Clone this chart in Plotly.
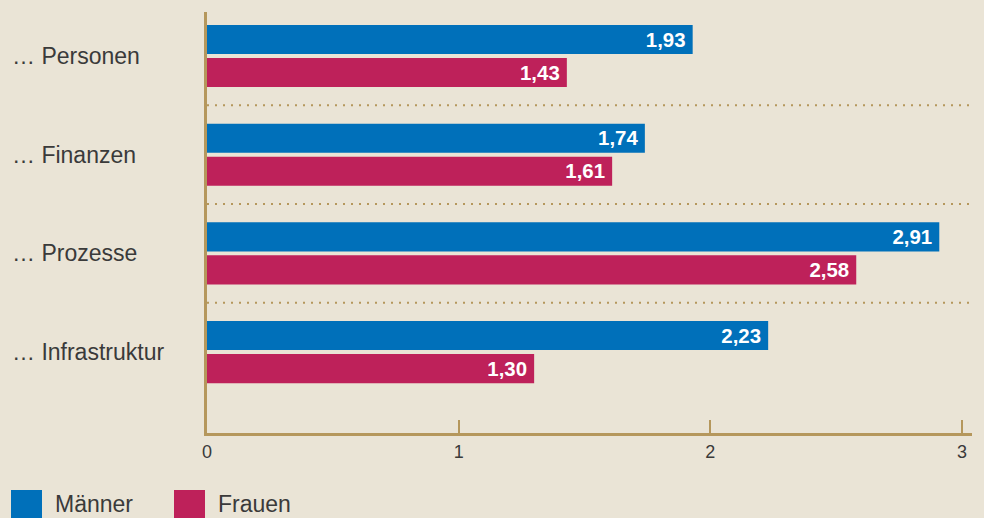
import plotly.graph_objects as go

categories = ["… Personen", "… Finanzen", "… Prozesse", "… Infrastruktur"]
maenner = [1.93, 1.74, 2.91, 2.23]
frauen = [1.43, 1.61, 2.58, 1.30]
series_names = ["Männer", "Frauen"]
x_ticks = [0, 1, 2, 3]

BG = "#EAE4D6"
BLUE = "#0070BA"
RED = "#BE215A"
AXIS = "#B5975C"
TEXT = "#3A3A3A"
FONT = "Liberation Sans, Arial, Helvetica, sans-serif"

W, H = 984, 518
L, R, T, B = 207, 12, 12, 85
PW, PH = W - L - R, H - T - B

fig = go.Figure()
for name, vals, col in [(series_names[0], maenner, BLUE), (series_names[1], frauen, RED)]:
    fig.add_trace(go.Bar(
        y=list(range(len(categories))), x=vals, orientation="h", name=name,
        marker=dict(color=col, line=dict(width=0)),
        texttemplate="%{x:.2f}\u2009", textposition="inside", insidetextanchor="end",
        textfont=dict(family=FONT, size=23, color="white", weight="bold"),
        cliponaxis=False, showlegend=False, hoverinfo="skip",
    ))

# dotted separators between groups
for i in range(len(categories) - 1):
    fig.add_shape(type="line", xref="paper", x0=0, x1=1, yref="y", y0=i + 0.5, y1=i + 0.5,
                  line=dict(color=AXIS, width=2, dash="2px,6px"), layer="below")

# category labels (left aligned)
for i, c in enumerate(categories):
    fig.add_annotation(x=0, xref="paper", xshift=-(L - 10), xanchor="left", y=i, yref="y",
                       text=c, showarrow=False,
                       font=dict(family=FONT, size=23, color=TEXT))

# legend
leg_items = [(series_names[0], BLUE, 11), (series_names[1], RED, 174)]
for name, col, px in leg_items:
    fig.add_shape(type="rect", xref="paper", yref="paper",
                  x0=(px - L) / PW, x1=(px + 31 - L) / PW,
                  y0=(H - B - 520) / PH, y1=(H - B - 490) / PH,
                  fillcolor=col, line=dict(width=0))
    fig.add_annotation(x=(px + 42 - L) / PW, xref="paper", xanchor="left",
                       y=(H - B - 504) / PH, yref="paper", yanchor="middle",
                       text=name, showarrow=False,
                       font=dict(family=FONT, size=23, color=TEXT))

fig.update_layout(
    width=W, height=H,
    margin=dict(l=L, r=R, t=T, b=B),
    paper_bgcolor=BG, plot_bgcolor=BG,
    barmode="group", bargap=0.33, bargroupgap=0.12,
    separators=",.",
    font=dict(family=FONT, color=TEXT),
    xaxis=dict(range=[0, 3.04], tickvals=x_ticks, ticks="inside", ticklen=13, tickwidth=2,
               tickcolor=AXIS, showgrid=False, zeroline=False,
               showline=True, linecolor=AXIS, linewidth=3,
               tickfont=dict(family=FONT, size=18, color=TEXT)),
    yaxis=dict(range=[3.82, -0.446], showticklabels=False, ticks="", showgrid=False,
               zeroline=False, showline=True, linecolor=AXIS, linewidth=3),
)

fig.write_html("out.html", config={"displayModeBar": False},
               post_script="document.body.style.margin='0';document.body.style.background='" + BG + "';")
